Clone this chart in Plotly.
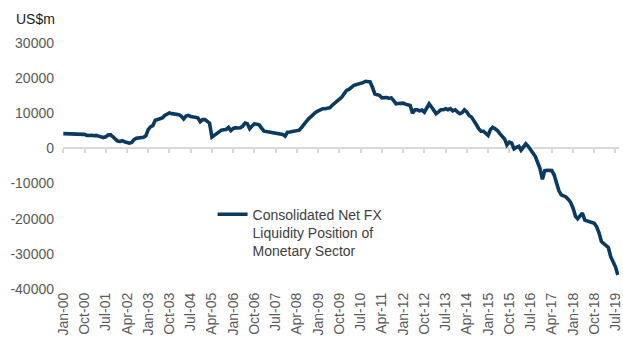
import pandas as pd
import plotly.graph_objects as go

# Monthly consolidated net FX liquidity position, US$m, Jan-2000 to Aug-2019
start_month = "2000-01-01"
net_fx_liquidity = [
    # 2000
    4200, 4150, 4250, 4100, 4050, 4200, 4000, 4050, 3900, 4000, 3700, 3800,
    # 2001
    3750, 3600, 3700, 3500, 3400, 3100, 3300, 3800, 3900, 3400, 2600, 2100,
    # 2002
    2000, 2200, 1900, 1700, 1500, 1700, 2500, 2900, 3000, 3100, 3200, 3600,
    # 2003
    5400, 6200, 6500, 8000, 8200, 8600, 8700, 9400, 9800, 10100, 9900, 9800,
    # 2004
    9700, 9600, 9200, 8400, 9200, 9400, 9100, 9000, 8800, 8700, 7600, 8200,
    # 2005
    8200, 7500, 7200, 3200, 3700, 4300, 4700, 5200, 5300, 5400, 6000, 5100,
    # 2006
    5700, 5900, 5800, 5900, 6300, 7200, 7000, 5600, 6400, 7000, 6900, 6700,
    # 2007
    5800, 4900, 4800, 4700, 4600, 4500, 4300, 4200, 4100, 4000, 3500, 4600,
    # 2008
    4700, 4800, 4900, 5000, 5200, 6000, 7000, 7700, 8500, 9200, 9800, 10300,
    # 2009
    10700, 11000, 11300, 11300, 11400, 11600, 12300, 12800, 13300, 14000, 14600, 15600,
    # 2010
    16500, 16800, 17300, 17900, 18100, 18300, 18400, 18700, 19100, 18900, 18900, 17400,
    # 2011
    15500, 15300, 15100, 14400, 14500, 14500, 14300, 14400, 13600, 12700, 12800, 12900,
    # 2012
    12900, 12600, 12400, 12200, 10000, 11000, 11000, 10700, 10900, 10300, 11500, 12700,
    # 2013
    11800, 10800, 9900, 10400, 11000, 11000, 11300, 11000, 11300, 10700, 11000, 10400,
    # 2014
    9900, 10200, 11000, 10400, 9400, 8900, 8000, 6800, 5600, 4900, 4900, 4300,
    # 2015
    3700, 5400, 6000, 5600, 5100, 4200, 3500, 2700, 1000, 1800, 1500, -100,
    # 2016
    300, 600, -500, 400, 1300, 600, -300, -1000, -2300, -4000, -5800, -8800,
    # 2017
    -6300, -6200, -6200, -6300, -7500, -9500, -12000, -13200, -13500, -13800, -14500, -15400,
    # 2018
    -17000, -19300, -20000, -19200, -18400, -20400, -20600, -20800, -21000, -21300, -22300, -24000,
    # 2019
    -26500, -27200, -27700, -28200, -30800, -32400, -33700, -36000,
]
months = pd.date_range(start_month, periods=len(net_fx_liquidity), freq="MS")

series_name = "Consolidated Net FX<br>Liquidity Position of<br>Monetary Sector"
y_tick_values = [30000, 20000, 10000, 0, -10000, -20000, -30000, -40000]
y_tick_labels = ["30000", "20000", "10000", "0", "-10000", "-20000", "-30000", "-40000"]
unit_label = "US$m"

x_range = ["1999-12-28", "2019-08-16"]
y_min, y_max = -40000, 30000

fig = go.Figure()
# invisible copy on the overlay axis so its zero-level line and ticks get drawn
fig.add_trace(go.Scatter(
    x=months, y=net_fx_liquidity, mode="lines", xaxis="x2", yaxis="y",
    line=dict(color="rgba(0,0,0,0)", width=0), hoverinfo="skip", showlegend=False,
))
fig.add_trace(go.Scatter(
    x=months, y=net_fx_liquidity, mode="lines", name=series_name,
    line=dict(color="#0b3a60", width=3.6), showlegend=True,
))

font_family = "Liberation Sans, Arial, sans-serif"
fig.update_layout(
    width=623, height=341,
    margin=dict(l=63, r=0, t=43, b=52),
    paper_bgcolor="white", plot_bgcolor="white",
    font=dict(family=font_family, size=14, color="#595959"),
    showlegend=True,
    legend=dict(
        x=0.269, y=0.367, xanchor="left", yanchor="top",
        bgcolor="rgba(0,0,0,0)", borderwidth=0,
        font=dict(family=font_family, size=14, color="#404040"),
        itemwidth=30, valign="top", tracegroupgap=0,
    ),
    xaxis=dict(
        type="date", range=x_range,
        tick0="2000-01-01", dtick="M9", tickformat="%b-%y",
        tickangle=-90, showgrid=False, showline=False, zeroline=False,
        ticks="", ticklabeloverflow="allow",
        tickfont=dict(size=14, color="#595959"),
    ),
    # axis line with tick marks running along the zero level, under the series
    xaxis2=dict(
        type="date", range=x_range, overlaying="x", anchor="free",
        position=(0 - y_min) / (y_max - y_min), layer="below traces",
        tick0="2000-01-01", dtick="M9",
        showticklabels=False, showgrid=False, zeroline=False,
        showline=True, linecolor="#d9d9d9", linewidth=1.5,
        ticks="outside", ticklen=4, tickcolor="#d9d9d9", tickwidth=1.5,
    ),
    yaxis=dict(
        range=[y_min, y_max], tickvals=y_tick_values, ticktext=y_tick_labels,
        showgrid=False, zeroline=False, showline=False, ticks="",
        ticklabelstandoff=8, tickfont=dict(size=14, color="#595959"),
    ),
)

fig.add_annotation(
    text=unit_label, xref="paper", yref="paper", x=-0.089, y=1.0,
    xanchor="left", yanchor="bottom", yshift=14, showarrow=False,
    font=dict(family=font_family, size=14, color="#1a1a1a"),
)

fig.write_html("out.html")
